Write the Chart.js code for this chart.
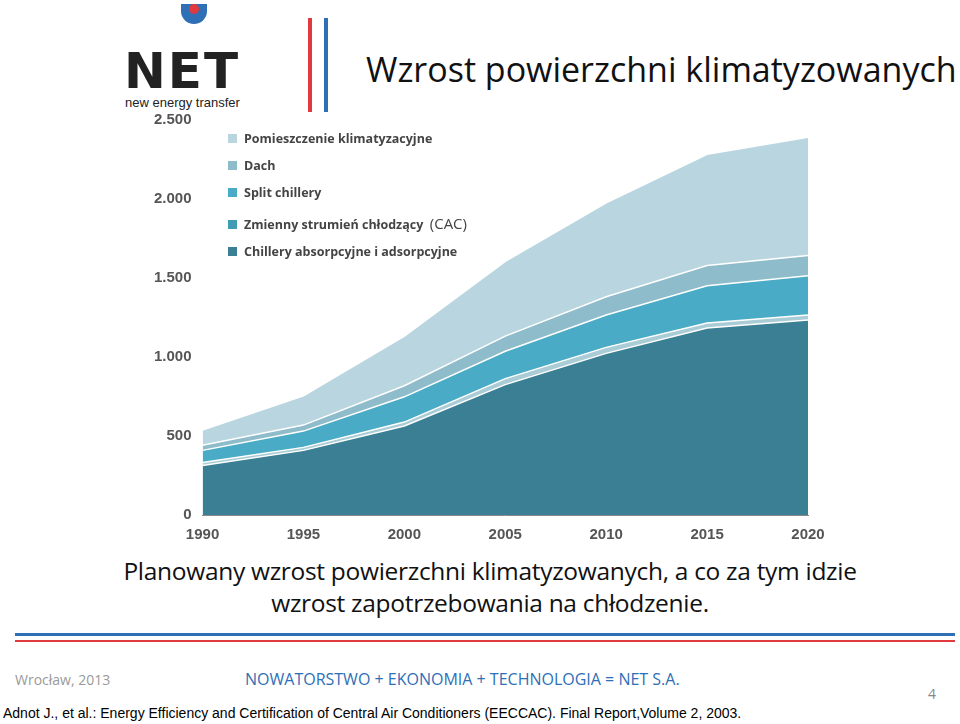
<!DOCTYPE html>
<html><head><meta charset="utf-8">
<script src="https://cdn.jsdelivr.net/npm/chart.js@4/dist/chart.umd.min.js"></script>
<style>
body{margin:0;width:960px;height:724px;background:#fff;position:relative;overflow:hidden;font-family:"Liberation Sans",Arial,sans-serif}
.abs{position:absolute}
#wrap{position:absolute;left:115px;top:108px;width:720px;height:445px}
.lg{position:absolute;left:228px;font:bold 12.5px "Open Sans",sans-serif;color:#444}
.lg i{display:inline-block;width:9px;height:9px;margin-right:7px}
</style></head><body>
<div class="abs" style="left:181px;top:4px;width:26px;height:20px;border-radius:0 0 13px 13px;background:#2e6fb6"></div>
<div class="abs" style="left:189px;top:4px;width:10px;height:10px;border-radius:50%;background:#e03a3e"></div>
<div class="abs" style="left:124px;top:42px;font:bold 50px 'DejaVu Sans',sans-serif;color:#222;letter-spacing:2px">NET</div>
<div class="abs" style="left:125px;top:95px;font:13px 'Liberation Sans';color:#222">new energy transfer</div>
<div class="abs" style="left:308px;top:18px;width:4px;height:94px;background:#e03a3e"></div>
<div class="abs" style="left:324px;top:18px;width:4px;height:94px;background:#2e6fb6"></div>
<div class="abs" style="left:366px;top:46px;font:34px 'Open Sans',sans-serif;color:#111">Wzrost powierzchni klimatyzowanych</div>
<div id="wrap"><canvas id="c"></canvas></div>
<div class="lg" style="top:130px"><i style="background:#b9d6e0"></i>Pomieszczenie klimatyzacyjne</div>
<div class="lg" style="top:157px"><i style="background:#8fbccb"></i>Dach</div>
<div class="lg" style="top:184px"><i style="background:#4aabc6"></i>Split chillery</div>
<div class="lg" style="top:213px"><i style="background:#3f9cb3"></i>Zmienny strumień chłodzący &nbsp;<span style="font-size:15px;font-weight:normal">(CAC)</span></div>
<div class="lg" style="top:243px"><i style="background:#3a7f93"></i>Chillery absorpcyjne i adsorpcyjne</div>
<div class="abs" style="left:0;width:980px;top:555px;text-align:center;font:24.5px 'Open Sans',sans-serif;color:#111;line-height:32px;letter-spacing:-0.3px">Planowany wzrost powierzchni klimatyzowanych, a co za tym idzie<br>wzrost zapotrzebowania na chłodzenie.</div>
<div class="abs" style="left:15px;top:633px;width:940px;height:3px;background:#2e6fb6"></div>
<div class="abs" style="left:15px;top:640px;width:940px;height:2px;background:#e03a3e"></div>
<div class="abs" style="left:15px;top:670px;font:14px 'Open Sans';color:#999">Wrocław, 2013</div>
<div class="abs" style="left:245px;top:668px;font:16px 'Open Sans';color:#2e6fb6">NOWATORSTWO + EKONOMIA + TECHNOLOGIA = NET S.A.</div>
<div class="abs" style="left:928px;top:684px;font:14px 'Open Sans';color:#888">4</div>
<div class="abs" style="left:3px;top:705px;font:14px 'Liberation Sans';color:#000">Adnot J., et al.: Energy Efficiency and Certification of Central Air Conditioners (EECCAC). Final Report,Volume 2, 2003.</div>
<script>
const years = ['1990','1995','2000','2005','2010','2015','2020'];
const chillery = [313, 409, 563, 825, 1023, 1183, 1234];
const cac = [19, 19, 25, 38, 38, 32, 32];
const split = [77, 103, 160, 173, 205, 236, 249];
const dach = [32, 38, 70, 96, 115, 128, 128];
const pomieszczenie = [96, 185, 314, 473, 595, 704, 748];
const yTicks = ['0','500','1.000','1.500','2.000','2.500'];

function ds(label, data, color, fill) {
  return { label, data, backgroundColor: color, borderColor: '#fff', borderWidth: 1.5, fill, pointRadius: 0, tension: 0 };
}
new Chart(document.getElementById('c'), {
  type: 'line',
  data: { labels: years, datasets: [
    ds('Chillery absorpcyjne i adsorpcyjne', chillery, '#3a7f93', 'origin'),
    ds('Zmienny strumień chłodzący (CAC)', cac, '#a9ccd6', '-1'),
    ds('Split chillery', split, '#4aabc6', '-1'),
    ds('Dach', dach, '#8fbccb', '-1'),
    ds('Pomieszczenie klimatyzacyjne', pomieszczenie, '#b9d6e0', '-1')
  ]},
  options: {
    responsive: true, maintainAspectRatio: false, animation: false,
    layout: { padding: { left: 36, right: 27, top: 11, bottom: 6 } },
    plugins: { legend: { display: false }, tooltip: { enabled: false } },
    scales: {
      x: { offset: false, grid: { display: false }, border: { color: '#888' },
           ticks: { color: '#555', font: { size: 15, weight: 'bold' } } },
      y: { stacked: true, min: 0, max: 2500, grid: { display: false }, border: { display: false },
           ticks: { stepSize: 500, color: '#555', font: { size: 15, weight: 'bold' },
                    callback: (v, i) => yTicks[i] } }
    }
  }
});
</script>
</body></html>
